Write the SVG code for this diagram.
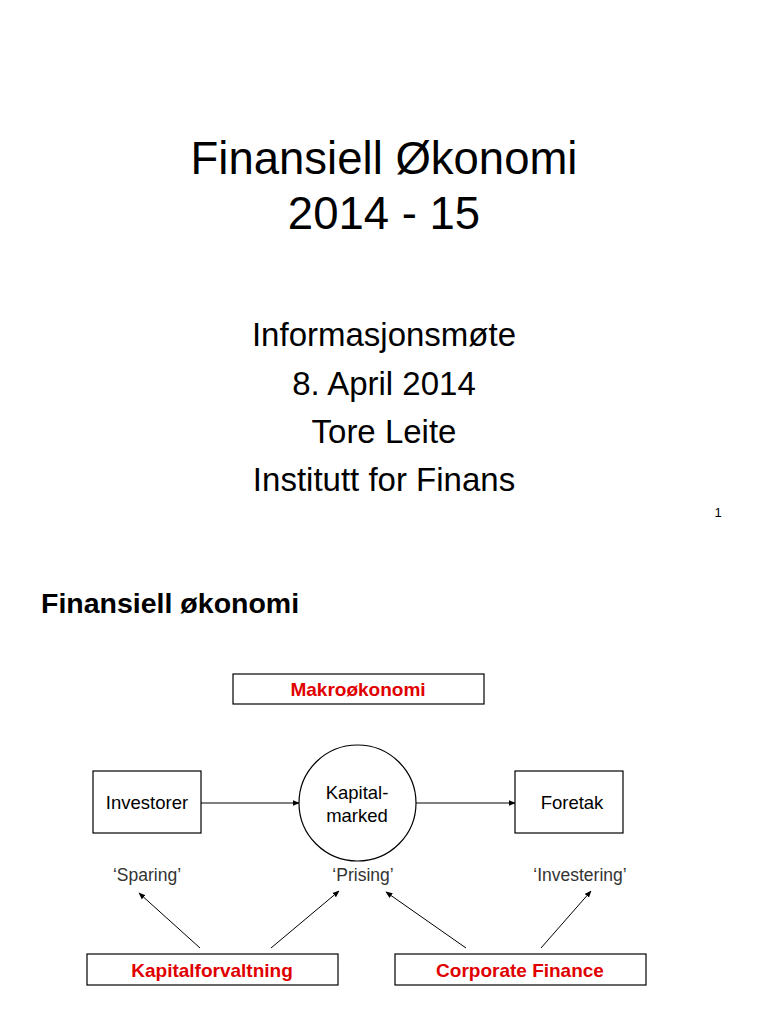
<svg xmlns="http://www.w3.org/2000/svg" width="768" height="1024" viewBox="0 0 768 1024">
<defs>
<style>
text{font-family:"Liberation Sans",Arial,sans-serif;fill:#000}
.t1{font-size:45.5px}
.t2{font-size:33px}
.h{font-size:28.5px;font-weight:bold}
.n{font-size:18.5px}
.r{font-size:19px;font-weight:bold;fill:#e00000}
.q{font-size:17.5px;fill:#333}
.box{fill:#fff;stroke:#000;stroke-width:1.2}
.c{stroke:#000;stroke-width:1;fill:none;marker-end:url(#ah)}
</style>
<marker id="ah" viewBox="0 0 10 10" refX="9" refY="5" markerWidth="7" markerHeight="7" orient="auto" markerUnits="userSpaceOnUse">
<path d="M0,1 L10,5 L0,9 z" fill="#000"/>
</marker>
</defs>
<rect width="768" height="1024" fill="#fff"/>
<g id="title">
<text class="t1" x="384" y="174" text-anchor="middle">Finansiell Økonomi</text>
<text class="t1" x="384" y="229" text-anchor="middle">2014 - 15</text>
<text class="t2" x="384" y="346" text-anchor="middle">Informasjonsmøte</text>
<text class="t2" x="384" y="395" text-anchor="middle">8. April 2014</text>
<text class="t2" x="384" y="443" text-anchor="middle">Tore Leite</text>
<text class="t2" x="384" y="491" text-anchor="middle">Institutt for Finans</text>
<text x="718" y="517" font-size="13" text-anchor="middle">1</text>
</g>
<text class="h" x="41" y="613">Finansiell økonomi</text>
<g id="connectors">
<line class="c" x1="201" y1="803" x2="299" y2="803"/>
<line class="c" x1="416" y1="803" x2="515" y2="803"/>
<line class="c" x1="200" y1="948" x2="139" y2="893"/>
<line class="c" x1="271" y1="948" x2="339" y2="891"/>
<line class="c" x1="466" y1="948" x2="386" y2="892"/>
<line class="c" x1="541" y1="948" x2="591" y2="891"/>
</g>
<g id="makro">
<rect class="box" x="233" y="674" width="251" height="30"/>
<text class="r" x="358" y="696" text-anchor="middle">Makroøkonomi</text>
</g>
<g id="investorer">
<rect class="box" x="93" y="771" width="108" height="62"/>
<text class="n" x="147" y="809" text-anchor="middle">Investorer</text>
</g>
<g id="kapitalmarked">
<ellipse class="box" cx="357.5" cy="803" rx="58.5" ry="58"/>
<text class="n" x="357" y="799" text-anchor="middle">Kapital-</text>
<text class="n" x="357" y="822" text-anchor="middle">marked</text>
</g>
<g id="foretak">
<rect class="box" x="515" y="771" width="108" height="62"/>
<text class="n" x="572" y="809" text-anchor="middle">Foretak</text>
</g>
<g id="labels">
<text class="q" x="147" y="881" text-anchor="middle">‘Sparing’</text>
<text class="q" x="363" y="881" text-anchor="middle">‘Prising’</text>
<text class="q" x="580" y="881" text-anchor="middle">‘Investering’</text>
</g>
<g id="kapitalforvaltning">
<rect class="box" x="87" y="954" width="251" height="31"/>
<text class="r" x="212" y="977" text-anchor="middle">Kapitalforvaltning</text>
</g>
<g id="corporate">
<rect class="box" x="395" y="954" width="251" height="31"/>
<text class="r" x="520" y="977" text-anchor="middle">Corporate Finance</text>
</g>
</svg>
